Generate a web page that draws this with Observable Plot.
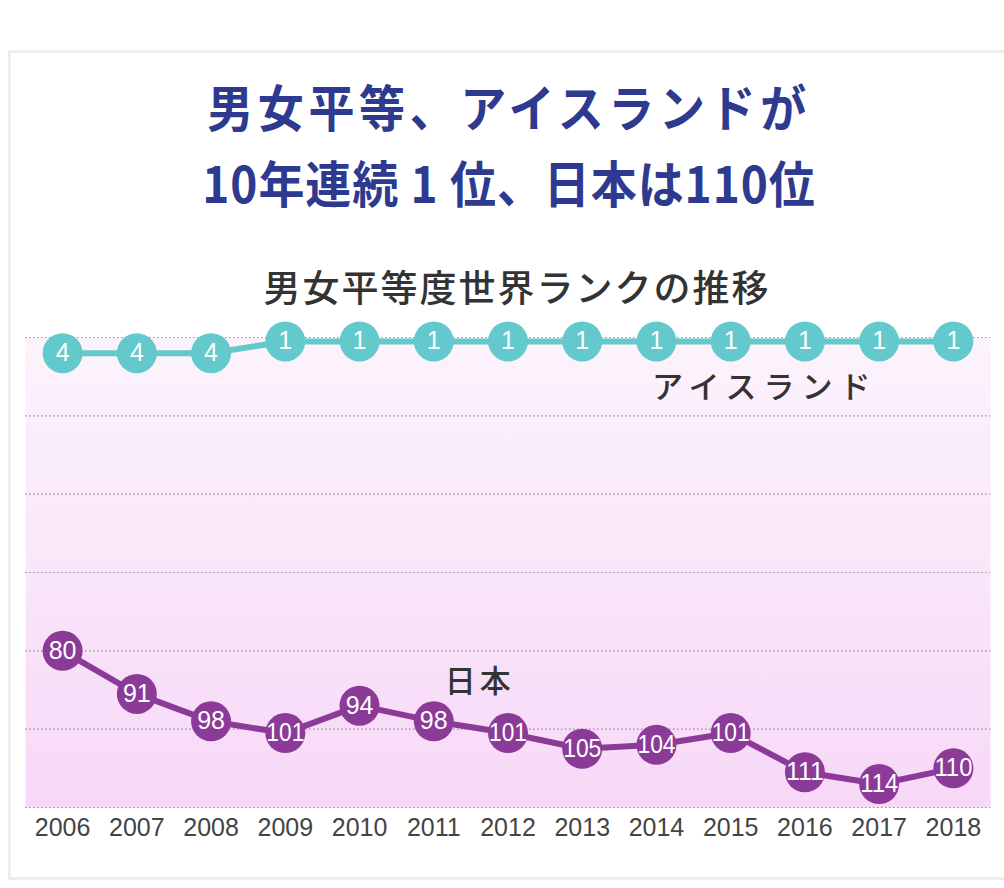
<!DOCTYPE html>
<html><head><meta charset="utf-8">
<script src="https://cdn.jsdelivr.net/npm/d3@7"></script>
<script src="https://cdn.jsdelivr.net/npm/@observablehq/plot@0.6"></script>
<style>
html,body{margin:0;padding:0;background:#fff;width:1004px;height:888px;overflow:hidden;}
#card{position:absolute;left:8px;top:50px;width:1030px;height:830px;border:3px solid #eeeeee;box-sizing:border-box;background:#fff;}
.title{position:absolute;left:4px;width:1010px;text-align:center;font-family:"Noto Sans CJK JP",sans-serif;font-weight:bold;color:#2e3a8f;font-size:50px;line-height:1;transform:scaleX(0.92);transform-origin:center;}
#sub{position:absolute;left:12px;width:1010px;text-align:center;font-family:"Noto Sans CJK JP",sans-serif;font-weight:500;color:#333;font-size:37px;line-height:1;letter-spacing:2px;}
#chart{position:absolute;left:0;top:300px;}
</style></head>
<body>
<div id="card"></div>
<div class="title" style="top:80px;letter-spacing:5px">男女平等、アイスランドが</div>
<div class="title" style="top:156px;letter-spacing:1px">10年連続 1 位、日本は110位</div>
<div id="sub" style="top:268px">男女平等度世界ランクの推移</div>
<div id="chart"></div>
<script>
const years = [2006,2007,2008,2009,2010,2011,2012,2013,2014,2015,2016,2017,2018];
const icelandRank = [4,4,4,1,1,1,1,1,1,1,1,1,1];
const japanRank = [80,91,98,101,94,98,101,105,104,101,111,114,110];
const seriesNames = ["アイスランド","日本"];
const seriesColors = ["#63c9cc","#8b3b97"];
const gridTicks = [0,20,40,60,80,100,120];
const seriesLabels = [
  {name:"アイスランド", year:2015.46, rank:13},
  {name:"日本", year:2011.62, rank:88}
];

const iceland = years.map((y,i)=>({year:y, rank:icelandRank[i], series:seriesNames[0]}));
const japan = years.map((y,i)=>({year:y, rank:japanRank[i], series:seriesNames[1]}));
const all = iceland.concat(japan);

const defs = () => {
  const d = d3.create("svg:defs");
  const g = d.append("linearGradient").attr("id","bg").attr("x1",0).attr("x2",0).attr("y1",0).attr("y2",1);
  g.append("stop").attr("offset","0%").attr("stop-color","#fcf3fc");
  g.append("stop").attr("offset","100%").attr("stop-color","#f7d8f7");
  return d.node();
};

const plot = Plot.plot({
  width: 1004,
  height: 560,
  marginTop: 37,
  marginBottom: 53,
  marginLeft: 25,
  marginRight: 14,
  x: {domain:[2005.5,2018.5], axis:null},
  y: {domain:[0,120], reverse:true, axis:null},
  color: {domain: seriesNames, range: seriesColors},
  marks: [
    defs,
    Plot.frame({fill:"url(#bg)", stroke:null}),
    Plot.gridY({ticks: gridTicks, stroke:"#8a7f8c", strokeOpacity:0.9, strokeDasharray:"1.5,2.5", strokeWidth:1.2}),
    Plot.axisX({ticks: years, tickFormat: d=>String(d), label:null, tickSize:0, tickPadding:11, fontSize:25, fill:"#444", fontFamily:"Liberation Sans, Arial, sans-serif"}),
    Plot.line(all, {x:"year", y:"rank", z:"series", stroke:"series", strokeWidth:6}),
    Plot.dot(all, {x:"year", y:"rank", fill:"series", r:20, stroke:null}),
    Plot.text(all, {x:"year", y:"rank", text: d=>String(d.rank), fill:"white", fontSize:25, fontFamily:"Liberation Sans, Arial, sans-serif", className:"num"}),
    Plot.text(seriesLabels, {x:"year", y:"rank", text:"name", fill:"#333", fontSize:31, fontWeight:500, fontFamily:"Noto Sans CJK JP, sans-serif", className:"slab"})
  ]
});
plot.style.fontFamily = "Liberation Sans, Arial, sans-serif";
document.getElementById("chart").appendChild(plot);
d3.select(plot).selectAll("g.num text").each(function(){
  const t = this.textContent;
  if (t.length >= 3) { d3.select(this).attr("textLength", 38).attr("lengthAdjust","spacingAndGlyphs"); }
});
d3.select(plot).selectAll("g.slab text").style("letter-spacing", function(){ return this.textContent.length > 2 ? "7px" : "4px"; });
</script>
</body></html>
